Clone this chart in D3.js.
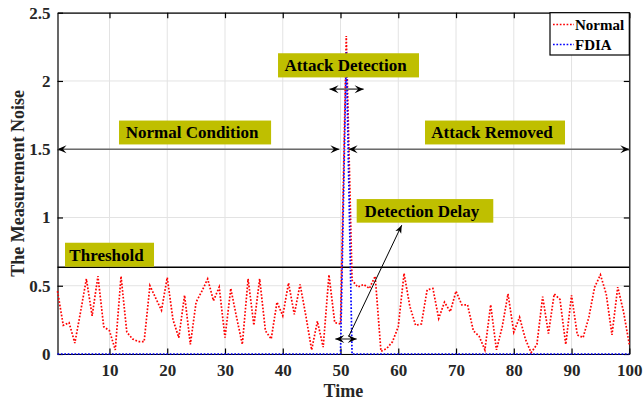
<!DOCTYPE html>
<html>
<head>
<meta charset="utf-8">
<script src="https://cdn.jsdelivr.net/npm/d3@7"></script>
<style>
  html, body { margin: 0; padding: 0; background: #fff; }
  svg { display: block; }
  svg text { font-family: "Liberation Serif", "Times New Roman", serif; font-weight: bold; }
</style>
</head>
<body>
<svg id="chart" width="643" height="401"></svg>
<script>
// Sample index (time steps 1..100)
const time = d3.range(1, 101);

// Measurement noise without attack
const normalNoise = [
  0.46, 0.21, 0.23, 0.08, 0.31, 0.55, 0.28, 0.57, 0.20, 0.17,
  0.03, 0.57, 0.16, 0.11, 0.09, 0.09, 0.50, 0.41, 0.32, 0.56,
  0.25, 0.12, 0.43, 0.07, 0.38, 0.46, 0.55, 0.39, 0.49, 0.12,
  0.48, 0.27, 0.07, 0.55, 0.21, 0.55, 0.17, 0.11, 0.38, 0.28,
  0.52, 0.29, 0.51, 0.28, 0.03, 0.24, 0.05, 0.58, 0.23, 0.22,
  2.33, 0.54, 0.49, 0.51, 0.48, 0.57, 0.02, 0.04, 0.09, 0.20,
  0.59, 0.35, 0.21, 0.22, 0.47, 0.48, 0.26, 0.38, 0.31, 0.46,
  0.36, 0.36, 0.17, 0.13, 0.03, 0.36, 0.03, 0.20, 0.44, 0.16,
  0.27, 0.11, 0.01, 0.07, 0.42, 0.15, 0.44, 0.40, 0.07, 0.43,
  0.14, 0.12, 0.27, 0.49, 0.58, 0.44, 0.14, 0.49, 0.31, 0.07
];

// Measurement noise under false data injection attack
const fdiaNoise = [
  0, 0, 0, 0, 0, 0, 0, 0, 0, 0,
  0, 0, 0, 0, 0, 0, 0, 0, 0, 0,
  0, 0, 0, 0, 0, 0, 0, 0, 0, 0,
  0, 0, 0, 0, 0, 0, 0, 0, 0, 0,
  0, 0, 0, 0, 0, 0, 0, 0, 0, 0,
  2.21, 0, 0, 0, 0, 0, 0, 0, 0, 0,
  0, 0, 0, 0, 0, 0, 0, 0, 0, 0,
  0, 0, 0, 0, 0, 0, 0, 0, 0, 0,
  0, 0, 0, 0, 0, 0, 0, 0, 0, 0,
  0, 0, 0, 0, 0, 0, 0, 0, 0, 0
];

const seriesNames = ["Normal", "FDIA"];
const seriesColors = ["#ff0000", "#0000ff"];
const xTicks = [10, 20, 30, 40, 50, 60, 70, 80, 90, 100];
const yTicks = [0, 0.5, 1, 1.5, 2, 2.5];
const yTickLabels = ["0", "0.5", "1", "1.5", "2", "2.5"];
const thresholdValue = 0.635;

const svg = d3.select("#chart");
const margin = { left: 57.5, right: 643 - 629.3, top: 12.7, bottom: 401 - 354 };
const W = 643, H = 401;
const serif = "'Liberation Serif', 'Times New Roman', serif";

const x = d3.scaleLinear().domain([1, 100]).range([margin.left, W - margin.right]);
const y = d3.scaleLinear().domain([0, 2.5]).range([H - margin.bottom, margin.top]);

const textColor = "#262626";

// Grid
const grid = svg.append("g").attr("stroke", "#e3e3e3").attr("stroke-width", 1);
xTicks.forEach(t => grid.append("line")
  .attr("x1", x(t)).attr("x2", x(t)).attr("y1", y(0)).attr("y2", y(2.5)));
yTicks.forEach(t => grid.append("line")
  .attr("x1", x(1)).attr("x2", x(100)).attr("y1", y(t)).attr("y2", y(t)));

// Axes with inward ticks on all four sides
const tickLen = 5.5;
const bottomAxis = d3.axisBottom(x).tickValues(xTicks).tickSizeInner(-tickLen).tickSizeOuter(0).tickPadding(10);
const topAxis = d3.axisTop(x).tickValues(xTicks).tickSizeInner(-tickLen).tickSizeOuter(0).tickFormat("");
const leftAxis = d3.axisLeft(y).tickValues(yTicks).tickSizeInner(-tickLen).tickSizeOuter(0).tickPadding(7)
  .tickFormat((d, i) => yTickLabels[i]);
const rightAxis = d3.axisRight(y).tickValues(yTicks).tickSizeInner(-tickLen).tickSizeOuter(0).tickFormat("");

function styleAxis(g) {
  g.attr("font-family", serif).attr("font-size", 17).attr("font-weight", "bold");
  g.select(".domain").attr("stroke", "#000").attr("stroke-width", 1.2);
  g.selectAll(".tick line").attr("stroke", "#000").attr("stroke-width", 1.2);
  g.selectAll(".tick text").attr("fill", textColor)
    .attr("font-family", serif).attr("font-weight", "bold").attr("font-size", 17);
}
svg.append("g").attr("transform", `translate(0,${y(0)})`).call(bottomAxis).call(styleAxis);
svg.append("g").attr("transform", `translate(0,${y(2.5)})`).call(topAxis).call(styleAxis);
svg.append("g").attr("transform", `translate(${x(1)},0)`).call(leftAxis).call(styleAxis);
svg.append("g").attr("transform", `translate(${x(100)},0)`).call(rightAxis).call(styleAxis);

// Threshold line
svg.append("line")
  .attr("x1", x(1)).attr("x2", x(100))
  .attr("y1", y(thresholdValue)).attr("y2", y(thresholdValue))
  .attr("stroke", "#000").attr("stroke-width", 1.4);

// Series
const line = d3.line().x((d, i) => x(time[i])).y(d => y(d));
[normalNoise, fdiaNoise].forEach((vals, k) => {
  svg.append("path")
    .datum(vals)
    .attr("d", line)
    .attr("fill", "none")
    .attr("stroke", seriesColors[k])
    .attr("stroke-width", 1.7)
    .attr("stroke-dasharray", "1.7,1.7");
});

// Arrowhead drawn as a notched chevron, tip at (tx,ty) pointing along angle (radians)
function arrowHead(g, tx, ty, angle, len = 9, half = 4, notch = 5.5) {
  const pts = [[0, 0], [-len, -half], [-notch, 0], [-len, half]];
  const c = Math.cos(angle), s = Math.sin(angle);
  const p = pts.map(([px, py]) => [tx + px * c - py * s, ty + px * s + py * c]);
  g.append("path").attr("d", "M" + p.map(q => q.join(",")).join("L") + "Z").attr("fill", "#000");
}
function doubleArrow(t0, t1, v, color = "#6b6b6b", width = 1.6) {
  const g = svg.append("g");
  g.append("line").attr("x1", x(t0)).attr("x2", x(t1)).attr("y1", y(v)).attr("y2", y(v))
    .attr("stroke", color).attr("stroke-width", width);
  arrowHead(g, x(t0), y(v), Math.PI);
  arrowHead(g, x(t1), y(v), 0);
}

doubleArrow(1, 49.8, 1.5);
doubleArrow(51.4, 100, 1.5);
doubleArrow(48.1, 54.0, 1.94);
doubleArrow(49.1, 52.8, 0.11);

// Pointer from the delay marker to its label
{
  const g = svg.append("g");
  const x0 = x(51.4), y0 = y(0.127), x1 = x(60.6), y1 = y(0.944);
  g.append("line").attr("x1", x0).attr("y1", y0).attr("x2", x1).attr("y2", y1)
    .attr("stroke", "#000").attr("stroke-width", 1);
  arrowHead(g, x1, y1, Math.atan2(y1 - y0, x1 - x0), 8, 3.2, 6);
}

// Annotation labels on olive boxes (data-space corners)
const noteText = ["Normal Condition", "Attack Detection", "Attack Removed", "Threshold", "Detection Delay"];
const noteX0 = [11.65, 39.18, 64.63, 2.30, 52.8];
const noteX1 = [37.98, 63.59, 88.87, 17.71, 76.45];
const noteTop = [1.71, 2.203, 1.71, 0.815, 1.135];
const noteBottom = [1.535, 2.026, 1.535, 0.639, 0.962];

noteText.forEach((txt, i) => {
  const bx = x(noteX0[i]), bw = x(noteX1[i]) - x(noteX0[i]);
  const by = y(noteTop[i]), bh = y(noteBottom[i]) - y(noteTop[i]);
  svg.append("rect").attr("x", bx).attr("y", by).attr("width", bw).attr("height", bh)
    .attr("fill", "#bfbf00");
  svg.append("text")
    .attr("x", bx + bw / 2 - 3).attr("y", by + bh / 2 + 6)
    .attr("text-anchor", "middle")
    .attr("fill", "#000")
    .attr("font-family", serif).attr("font-weight", "bold").attr("font-size", 17)
    .text(txt);
});

// Legend
{
  const lx0 = 550, lx1 = x(100), ly0 = y(2.5), ly1 = 55;
  const g = svg.append("g");
  g.append("rect").attr("x", lx0).attr("y", ly0).attr("width", lx1 - lx0).attr("height", ly1 - ly0)
    .attr("fill", "#fff").attr("stroke", "#000").attr("stroke-width", 1.2);
  seriesNames.forEach((name, i) => {
    const ly = 24.5 + i * 20;
    g.append("line").attr("x1", 553).attr("x2", 574).attr("y1", ly).attr("y2", ly)
      .attr("stroke", seriesColors[i]).attr("stroke-width", 1.7).attr("stroke-dasharray", "1.7,1.7");
    g.append("text").attr("x", 575).attr("y", ly + 5).attr("fill", "#000")
      .attr("font-family", serif).attr("font-weight", "bold").attr("font-size", 15)
      .text(name);
  });
}

// Axis titles
svg.append("text")
  .attr("x", x(50.5)).attr("y", 397)
  .attr("text-anchor", "middle").attr("fill", textColor)
  .attr("font-family", serif).attr("font-weight", "bold").attr("font-size", 18)
  .text("Time");

svg.append("text")
  .attr("transform", `translate(24,${(y(0) + y(2.5)) / 2}) rotate(-90)`)
  .attr("text-anchor", "middle").attr("fill", textColor)
  .attr("font-family", serif).attr("font-weight", "bold").attr("font-size", 18)
  .text("The Measurement Noise");
</script>
</body>
</html>
